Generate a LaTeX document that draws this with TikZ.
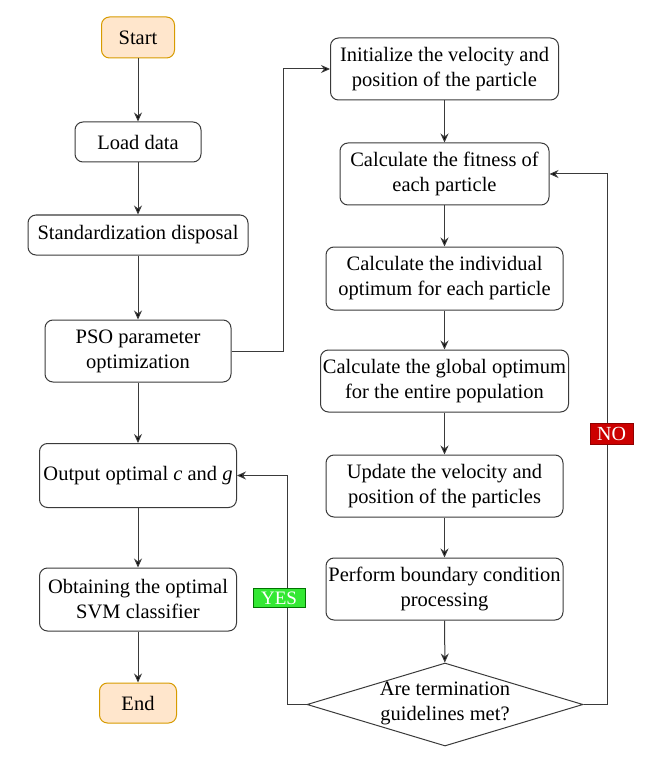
\documentclass[tikz,border=0pt]{standalone}
\usepackage{fontspec}
\setmainfont{Liberation Serif}
\usetikzlibrary{shapes.geometric,arrows.meta}
\definecolor{linec}{HTML}{3A3A3A}
\definecolor{termfill}{HTML}{FFE6CC}
\definecolor{termdraw}{HTML}{D79B00}
\definecolor{yesgreen}{HTML}{33E833}
\definecolor{nored}{HTML}{CC0000}
\begin{document}
\begin{tikzpicture}[x=1pt,y=-1pt,
  every node/.style={font=\fontsize{20.5}{25}\selectfont},
  box/.style={draw=linec, line width=1pt, rounded corners=8pt, align=center, inner sep=0pt},
  term/.style={box, fill=termfill, draw=termdraw},
  conn/.style={draw=linec, line width=1pt, -{Stealth[length=9pt,width=8pt,fill=black]}},
  flag/.style={text=white, inner sep=0pt, line width=0.6pt}
]
\useasboundingbox (0,0) rectangle (650,759);
% left column
\node[term, minimum width=73pt, minimum height=41pt] (start) at (138,37.5) {Start};
\node[box, minimum width=126pt, minimum height=40pt] (load) at (138,142) {Load data};
\node[box, minimum width=220pt, minimum height=40pt] (std) at (138,235) {Standardization disposal};
\node[box, minimum width=186pt, minimum height=62pt] (pso) at (138,351) {PSO parameter\\optimization};
\node[box, minimum width=197pt, minimum height=64pt] (out) at (138,475.5) {Output optimal \textit{c} and \textit{g}};
\node[box, minimum width=197pt, minimum height=63pt] (obt) at (138,599.5) {Obtaining the optimal\\SVM classifier};
\node[term, minimum width=77pt, minimum height=40pt] (end) at (138,703) {End};
% right column
\node[box, minimum width=228pt, minimum height=62pt] (init) at (444.5,69) {Initialize the velocity and\\position of the particle};
\node[box, minimum width=209pt, minimum height=62pt] (fit) at (444.5,174) {Calculate the fitness of\\each particle};
\node[box, minimum width=237pt, minimum height=63pt] (ind) at (444.5,278.5) {Calculate the individual\\optimum for each particle};
\node[box, minimum width=248pt, minimum height=62pt] (glob) at (444.5,381) {Calculate the global optimum\\for the entire population};
\node[box, minimum width=237pt, minimum height=62pt] (upd) at (444.5,486) {Update the velocity and\\position of the particles};
\node[box, minimum width=237pt, minimum height=62pt] (bnd) at (444.5,589) {Perform boundary condition\\processing};
\node[diamond, draw=linec, line width=1pt, minimum width=276pt, minimum height=83pt, inner sep=0pt] (dia) at (445,704.5) {};
\node[align=center, inner sep=0pt] (diatext) at (445,703) {Are termination\\guidelines met?};
% connectors left
\draw[conn] (start) -- (load);
\draw[conn] (load) -- (std);
\draw[conn] (std) -- (pso);
\draw[conn] (pso) -- (out);
\draw[conn] (out) -- (obt);
\draw[conn] (obt) -- (end);
% right
\draw[conn] (init) -- (fit);
\draw[conn] (fit) -- (ind);
\draw[conn] (ind) -- (glob);
\draw[conn] (glob) -- (upd);
\draw[conn] (upd) -- (bnd);
\draw[conn] (bnd) -- (dia);
% cross connectors
\coordinate (c1) at (283,351);
\draw[conn] (pso.east) -- (c1) |- (init.west);
\coordinate (c2) at (287,704.5);
\draw[conn] (dia.west) -- (c2) |- (out.east);
\coordinate (c3) at (607,704.5);
\draw[conn] (dia.east) -- (c3) |- (fit.east);
% labels
\node[flag, fill=yesgreen, draw=green!45!black, minimum width=52pt, minimum height=19pt, font=\fontsize{19}{22}\selectfont] (yes) at (279,598) {YES};
\node[flag, fill=nored, draw=nored!70!black, minimum width=43pt, minimum height=21pt, font=\fontsize{20}{22}\selectfont] (no) at (611.5,433.5) {NO};
\end{tikzpicture}
\end{document}
